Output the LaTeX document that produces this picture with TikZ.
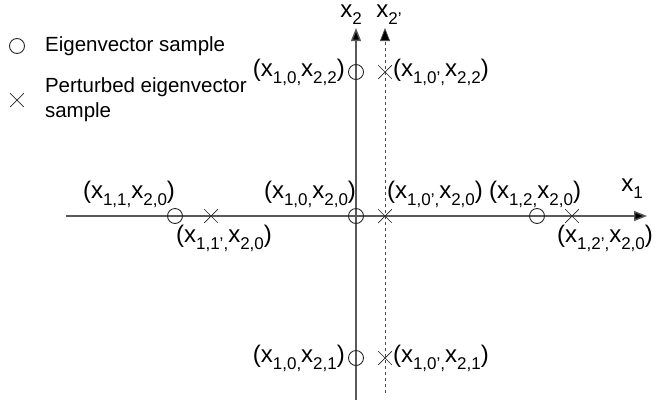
\documentclass[tikz,border=0pt]{standalone}
\usepackage{fontspec}
\setmainfont{Liberation Sans}
\usetikzlibrary{arrows.meta,shapes.misc,positioning}

\newcommand{\sbs}[1]{\raisebox{-0.3em}{\fontsize{17}{17}\selectfont #1}}
\newcommand{\pt}[2]{(x\sbs{#1,}x\sbs{#2})}

\begin{document}
\begin{tikzpicture}[x=1pt,y=-1pt,
    eig/.style={draw, circle, inner sep=0pt, minimum size=15pt, line width=0.9pt, black!85},
    pert/.style={draw, cross out, inner sep=0pt, minimum size=13pt, line width=0.7pt, black!85},
    lbl/.style={font=\fontsize{24}{27}\selectfont, inner sep=0pt},
    axis/.style={draw=black!65, line width=1.4pt, -{Triangle[length=13pt,width=10pt,fill=black]}},
    daxis/.style={draw=black!70, dashed, line width=0.7pt, -{Triangle[length=13pt,width=10pt,fill=black]}}
]
\useasboundingbox (0,0) rectangle (661,400);

% axes
\coordinate (h0) at (66,216);
\coordinate (h1) at (647,216);
\coordinate (v0) at (356,400);
\coordinate (v1) at (356,28);
\coordinate (d0) at (385,393);
\coordinate (d1) at (385,28);
\draw[axis] (h0) -- (h1);
\draw[axis] (v0) -- (v1);
\draw[daxis] (d0) -- (d1);
\node[lbl] (ax1) at (632,189) {x\sbs{1}};
\node[lbl] (ax2) at (351,15) {x\sbs{2}};
\node[lbl] (ax2p) at (389,15) {x\sbs{2'}};

% samples
\node[eig] (c11) at (175,216) {};
\node[pert] (p11) at (211,216) {};
\node[eig] (c10) at (356,216) {};
\node[pert] (p10) at (385,216) {};
\node[eig] (c12) at (537,216) {};
\node[pert] (p12) at (572,216) {};
\node[eig] (c02) at (356,72) {};
\node[pert] (p02) at (385,72) {};
\node[eig] (c01) at (356,358) {};
\node[pert] (p01) at (385,358) {};

% labels
\node[lbl] (l11) at (129,194) {\pt{1,1}{2,0}};
\node[lbl] (l11p) at (224,238) {\pt{1,1'}{2,0}};
\node[lbl] (l10) at (310,194) {\pt{1,0}{2,0}};
\node[lbl] (l10p) at (435,194) {\pt{1,0'}{2,0}};
\node[lbl] (l12) at (535,194) {\pt{1,2}{2,0}};
\node[lbl] (l12p) at (605,238) {\pt{1,2'}{2,0}};
\node[lbl, left=3pt of c02] (l02) {\pt{1,0}{2,2}};
\node[lbl, right=1pt of p02] (l02p) {\pt{1,0'}{2,2}};
\node[lbl, left=3pt of c01] (l01) {\pt{1,0}{2,1}};
\node[lbl, right=1pt of p01] (l01p) {\pt{1,0'}{2,1}};

% legend
\node[eig] (keye) at (17,46) {};
\node[pert] (keyp) at (17,100) {};
\node[lbl, font=\fontsize{20.5}{25}\selectfont, right=20pt of keye] (teye) {Eigenvector sample};
\node[lbl, font=\fontsize{20.5}{25}\selectfont, align=left, right=21pt of keyp] (tpert) {Perturbed eigenvector\\sample};
\end{tikzpicture}
\end{document}
